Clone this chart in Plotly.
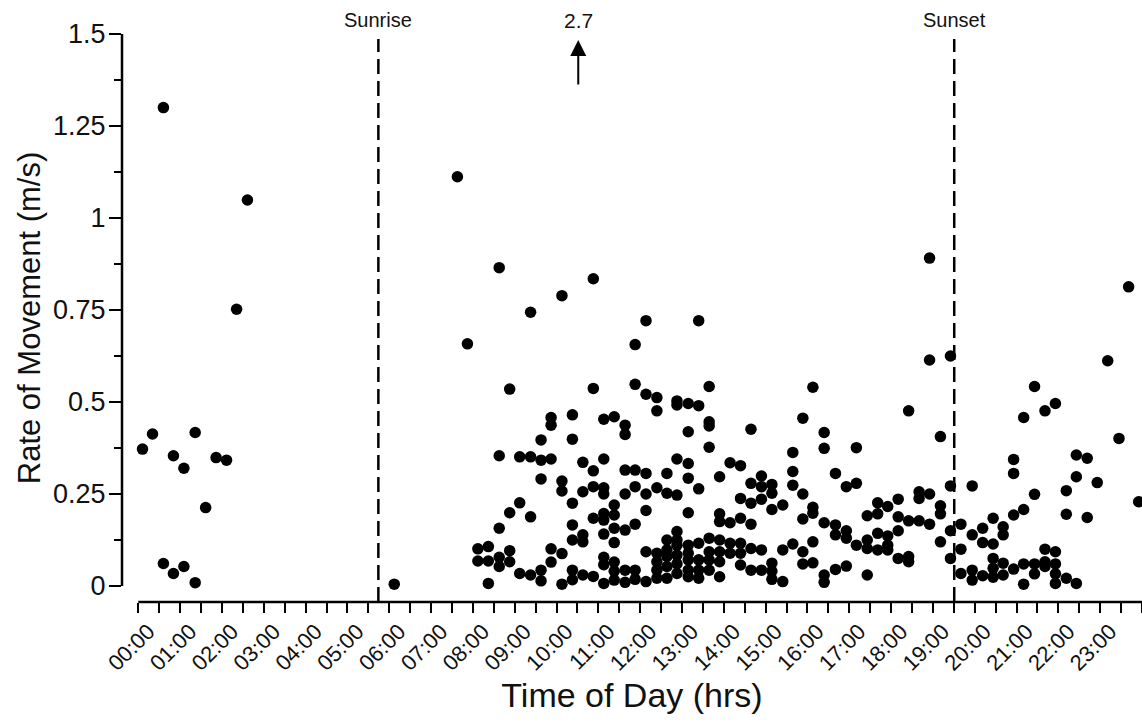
import plotly.graph_objects as go

# ---------------- data (time of day in decimal hours, rate of movement in m/s) ----------------
night_bins = [0.10, 0.34, 0.60, 0.84, 1.09, 1.36, 1.61, 1.86, 2.11, 2.35, 2.61, 6.12]
night_rates = [[0.372], [0.413], [1.300, 0.061], [0.354, 0.034], [0.320, 0.053],
               [0.417, 0.009], [0.213], [0.349], [0.342], [0.752], [1.049], [0.005]]

morning_bins = [7.63, 7.87, 8.12, 8.37, 8.63, 8.88, 9.12, 9.38, 9.63, 9.87, 10.13, 10.38,
                10.63, 10.88, 11.13, 11.38, 11.64, 11.88]
morning_rates = [[1.112], [0.658], [0.101, 0.068], [0.107, 0.068, 0.007],
                 [0.865, 0.354, 0.157, 0.078, 0.053], [0.535, 0.199, 0.096, 0.066],
                 [0.351, 0.226, 0.034], [0.744, 0.351, 0.188, 0.030],
                 [0.397, 0.342, 0.291, 0.043, 0.014], [0.458, 0.437, 0.345, 0.101, 0.065],
                 [0.789, 0.285, 0.258, 0.088, 0.005],
                 [0.465, 0.399, 0.225, 0.166, 0.125, 0.043, 0.017],
                 [0.336, 0.256, 0.139, 0.120, 0.030],
                 [0.835, 0.537, 0.313, 0.270, 0.184, 0.026],
                 [0.453, 0.345, 0.267, 0.250, 0.197, 0.179, 0.141, 0.078, 0.058, 0.007],
                 [0.460, 0.220, 0.193, 0.157, 0.118, 0.065, 0.040, 0.016],
                 [0.437, 0.412, 0.315, 0.250, 0.152, 0.043, 0.010],
                 [0.656, 0.548, 0.315, 0.270, 0.168, 0.043, 0.018]]

afternoon_bins = [12.14, 12.40, 12.64, 12.88, 13.15, 13.40, 13.65, 13.90, 14.15, 14.40, 14.65,
                  14.90, 15.15, 15.41, 15.65, 15.89, 16.13, 16.40, 16.67, 16.93, 17.17, 17.43,
                  17.68, 17.92, 18.17, 18.42, 18.67, 18.92, 19.18, 19.42]
afternoon_rates = [[0.721, 0.521, 0.306, 0.250, 0.205, 0.093, 0.012],
                   [0.512, 0.476, 0.267, 0.089, 0.066, 0.043, 0.021],
                   [0.306, 0.252, 0.125, 0.098, 0.080, 0.053, 0.021],
                   [0.503, 0.492, 0.345, 0.247, 0.148, 0.125, 0.111, 0.084, 0.060, 0.034],
                   [0.496, 0.419, 0.333, 0.293, 0.199, 0.111, 0.089, 0.071, 0.043, 0.025],
                   [0.721, 0.490, 0.264, 0.116, 0.071, 0.043, 0.021],
                   [0.542, 0.446, 0.435, 0.377, 0.130, 0.093, 0.071, 0.043],
                   [0.297, 0.196, 0.175, 0.125, 0.093, 0.066, 0.025],
                   [0.335, 0.172, 0.116, 0.089],
                   [0.327, 0.238, 0.184, 0.116, 0.089, 0.057],
                   [0.426, 0.279, 0.225, 0.168, 0.102, 0.043],
                   [0.299, 0.270, 0.236, 0.098, 0.043],
                   [0.276, 0.252, 0.208, 0.062, 0.040, 0.018],
                   [0.220, 0.098, 0.012],
                   [0.363, 0.311, 0.274, 0.114],
                   [0.456, 0.250, 0.182, 0.093, 0.060],
                   [0.540, 0.214, 0.198, 0.120, 0.063],
                   [0.417, 0.374, 0.172, 0.030, 0.010],
                   [0.306, 0.166, 0.139, 0.045],
                   [0.270, 0.150, 0.130, 0.054],
                   [0.376, 0.279, 0.111],
                   [0.191, 0.125, 0.102, 0.030],
                   [0.226, 0.196, 0.143, 0.098],
                   [0.216, 0.136, 0.111, 0.098],
                   [0.236, 0.188, 0.150, 0.075],
                   [0.476, 0.177, 0.080, 0.066],
                   [0.256, 0.238, 0.177],
                   [0.891, 0.614, 0.250, 0.168],
                   [0.406, 0.218, 0.196, 0.120],
                   [0.625, 0.272, 0.150, 0.075]]

evening_bins = [19.67, 19.94, 20.19, 20.44, 20.68, 20.93, 21.17, 21.43, 21.68, 21.93, 22.19,
                22.43, 22.69, 22.93, 23.18, 23.45, 23.68, 23.92]
evening_rates = [[0.168, 0.100, 0.034], [0.272, 0.139, 0.043, 0.016], [0.157, 0.118, 0.028],
                 [0.184, 0.114, 0.075, 0.048, 0.024], [0.161, 0.139, 0.062, 0.030],
                 [0.344, 0.306, 0.193, 0.046], [0.458, 0.208, 0.060, 0.005],
                 [0.542, 0.249, 0.060, 0.033], [0.476, 0.100, 0.066, 0.053],
                 [0.496, 0.093, 0.060, 0.033, 0.007], [0.259, 0.195, 0.021],
                 [0.356, 0.297, 0.007], [0.347, 0.186], [0.281], [0.612], [0.401],
                 [0.813], [0.229]]

# off-scale observation (shown with an arrow)
offscale_time = 10.52
offscale_rate = 2.7

sunrise_hr = 5.74
sunset_hr = 19.51

hour_ticks = list(range(24))
hour_labels = ["00:00", "01:00", "02:00", "03:00", "04:00", "05:00", "06:00", "07:00",
               "08:00", "09:00", "10:00", "11:00", "12:00", "13:00", "14:00", "15:00",
               "16:00", "17:00", "18:00", "19:00", "20:00", "21:00", "22:00", "23:00"]
y_ticks = [0, 0.25, 0.5, 0.75, 1.0, 1.25, 1.5]
y_labels = ["0", "0.25", "0.5", "0.75", "1", "1.25", "1.5"]
y_minor = [0.125, 0.375, 0.625, 0.875, 1.125, 1.375]

# ---------------- build ----------------
xs, ys = [], []
for bins, rates in ((night_bins, night_rates), (morning_bins, morning_rates),
                    (afternoon_bins, afternoon_rates), (evening_bins, evening_rates)):
    for t, vals in zip(bins, rates):
        for v in vals:
            xs.append(t)
            ys.append(v)

FONT = "Liberation Sans, Arial, Helvetica, sans-serif"

fig = go.Figure()
fig.add_trace(go.Scatter(x=xs, y=ys, mode="markers",
                         marker=dict(color="black", size=11.5, line=dict(width=0)),
                         showlegend=False, cliponaxis=False))

X_MIN = -0.39
Y_MIN = -0.0435
Y_MAX = 1.5

fig.update_layout(
    width=1142, height=724,
    margin=dict(l=122, r=0, t=34, b=122),
    paper_bgcolor="white", plot_bgcolor="white",
    font=dict(family=FONT, color="black"),
    showlegend=False,
)

fig.update_xaxes(
    range=[X_MIN, 24], showgrid=False, zeroline=False, showline=False,
    tickmode="array", tickvals=hour_ticks, ticktext=hour_labels,
    ticks="outside", ticklen=10, tickwidth=2, tickcolor="black",
    tickangle=-45, tickfont=dict(family=FONT, size=22, color="#111"),
    ticklabelshift=10, ticklabelstandoff=-3,
    minor=dict(tickmode="linear", tick0=0, dtick=0.5, ticks="outside", ticklen=10,
               tickwidth=2, tickcolor="black", showgrid=False),
    title=dict(text="Time of Day (hrs)", font=dict(family=FONT, size=34, color="#111"),
               standoff=6),
)
fig.update_yaxes(
    range=[Y_MIN, Y_MAX], showgrid=False, zeroline=False, showline=False,
    tickmode="array", tickvals=y_ticks, ticktext=y_labels,
    ticks="outside", ticklen=12, tickwidth=2, tickcolor="black",
    tickfont=dict(family=FONT, size=27, color="#111"),
    ticklabelstandoff=-2,
    minor=dict(tickmode="array", tickvals=y_minor, ticks="outside", ticklen=7,
               tickwidth=2, tickcolor="black", showgrid=False),
    title=dict(text="Rate of Movement (m/s)", font=dict(family=FONT, size=31, color="#111"),
               standoff=3),
)

# axis lines (GraphPad style: detached / offset axes)
fig.add_shape(type="line", xref="paper", yref="y", x0=0, x1=0, y0=0, y1=Y_MAX,
              line=dict(color="black", width=2.5))
fig.add_shape(type="line", xref="x", yref="paper", x0=0, x1=24, y0=0, y1=0,
              line=dict(color="black", width=2.5))

# sunrise / sunset dashed lines
for hr, label in ((sunrise_hr, "Sunrise"), (sunset_hr, "Sunset")):
    fig.add_shape(type="line", xref="x", yref="paper", x0=hr, x1=hr, y0=0, y1=0.991,
                  line=dict(color="black", width=2.5, dash="15px,7px"))
    fig.add_annotation(x=hr, y=1.0246, xref="x", yref="paper", text=label,
                       showarrow=False, font=dict(family=FONT, size=20, color="#111"),
                       xanchor="center", yanchor="middle")

# off-scale point arrow
fig.add_annotation(x=offscale_time, y=1.484, xref="x", yref="y",
                   ax=offscale_time, ay=1.359, axref="x", ayref="y",
                   text="", showarrow=True, arrowhead=2, arrowsize=1.6, arrowwidth=2,
                   arrowcolor="black")
fig.add_annotation(x=offscale_time, y=1.0246, xref="x", yref="paper",
                   text=f"{offscale_rate}", showarrow=False,
                   font=dict(family=FONT, size=21, color="#111"),
                   xanchor="center", yanchor="middle")

fig.write_html("out.html")
